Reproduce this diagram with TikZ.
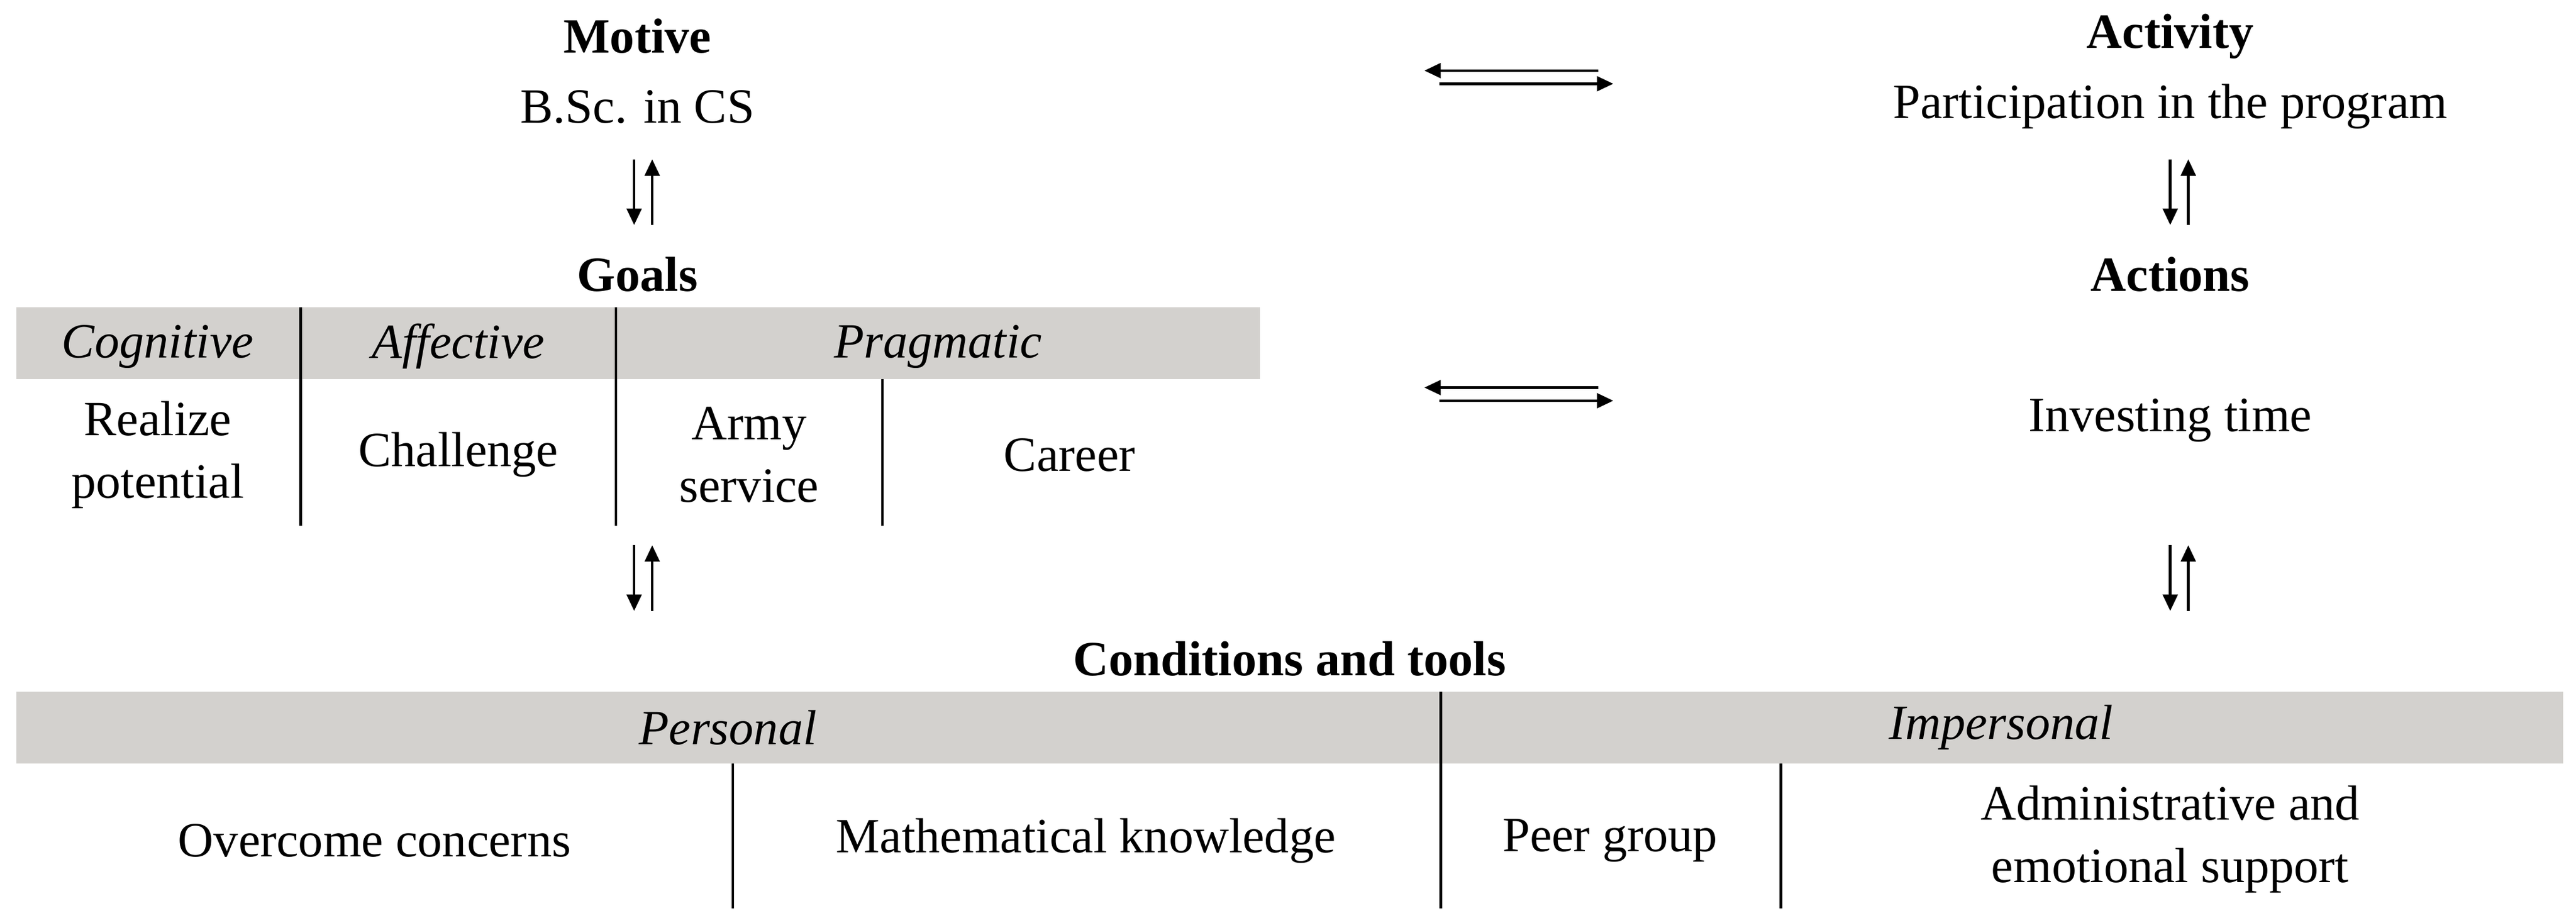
\documentclass[tikz,border=0pt]{standalone}
\usepackage{fontspec}
\setmainfont{Liberation Serif}
\usetikzlibrary{arrows.meta}
\definecolor{band}{RGB}{211,209,206}
\begin{document}
\begin{tikzpicture}[x=1pt,y=-1pt,
  txt/.style={font=\fontsize{30}{38}\selectfont,align=center,inner sep=0},
  hd/.style={txt,font=\fontsize{30}{38}\selectfont\bfseries},
  it/.style={txt,font=\fontsize{30}{38}\selectfont\itshape},
  rule/.style={line width=1.5pt},
  arr/.style={line width=1.6pt,-{Triangle[length=10pt,width=9pt]}}]
\useasboundingbox (0,0) rectangle (1568,562);
\fill[band] (10,187) rectangle (767,231);
\fill[band] (10,421) rectangle (1560,465);
\draw[rule] (183,187) -- (183,320);
\draw[rule] (375,187) -- (375,320);
\draw[rule] (537,231) -- (537,320);
\draw[rule] (877,421) -- (877,553);
\draw[rule] (446,465) -- (446,553);
\draw[rule] (1084,465) -- (1084,553);
\node[hd] (motive) at (388,22) {Motive};
\node[txt] (bsc) at (388,65) {B.Sc. in CS};
\node[hd] (goals) at (388,167) {Goals};
\node[it] (cog) at (96,211) {Cognitive};
\node[it] (aff) at (279,211) {Affective};
\node[it] (prag) at (571,211) {Pragmatic};
\node[txt] (real) at (96,277) {Realize\\potential};
\node[txt] (chal) at (279,277) {Challenge};
\node[txt] (army) at (456,277) {Army\\service};
\node[txt] (car) at (651,277) {Career};
\node[hd] (act) at (1321,22) {Activity};
\node[txt] (part) at (1321,65) {Participation in the program};
\node[hd] (acts) at (1321,167) {Actions};
\node[txt] (inv) at (1321,256) {Investing time};
\node[hd] (cond) at (785,401) {Conditions and tools};
\node[it] (pers) at (443,443) {Personal};
\node[it] (imp) at (1218,443) {Impersonal};
\node[txt] (over) at (228,512) {Overcome concerns};
\node[txt] (math) at (661,512) {Mathematical knowledge};
\node[txt] (peer) at (980,512) {Peer group};
\node[txt] (adm) at (1321,511) {Administrative and\\emotional support};
% vertical arrow pairs
\foreach \n/\x/\ya/\yb in {a/386/97/137, b/1321/97/137, c/386/332/372, d/1321/332/372}{
  \coordinate (\n1) at (\x,\ya); \coordinate (\n2) at (\x,\yb);
  \coordinate (\n3) at (\x+11,\yb); \coordinate (\n4) at (\x+11,\ya);
  \draw[arr] (\n1) -- (\n2);
  \draw[arr] (\n3) -- (\n4);
}
% horizontal arrow pairs
\foreach \n/\y in {h/43, k/236}{
  \coordinate (\n1) at (973,\y); \coordinate (\n2) at (867,\y);
  \coordinate (\n3) at (876,\y+8); \coordinate (\n4) at (982,\y+8);
  \draw[arr] (\n1) -- (\n2);
  \draw[arr] (\n3) -- (\n4);
}
\end{tikzpicture}
\end{document}
